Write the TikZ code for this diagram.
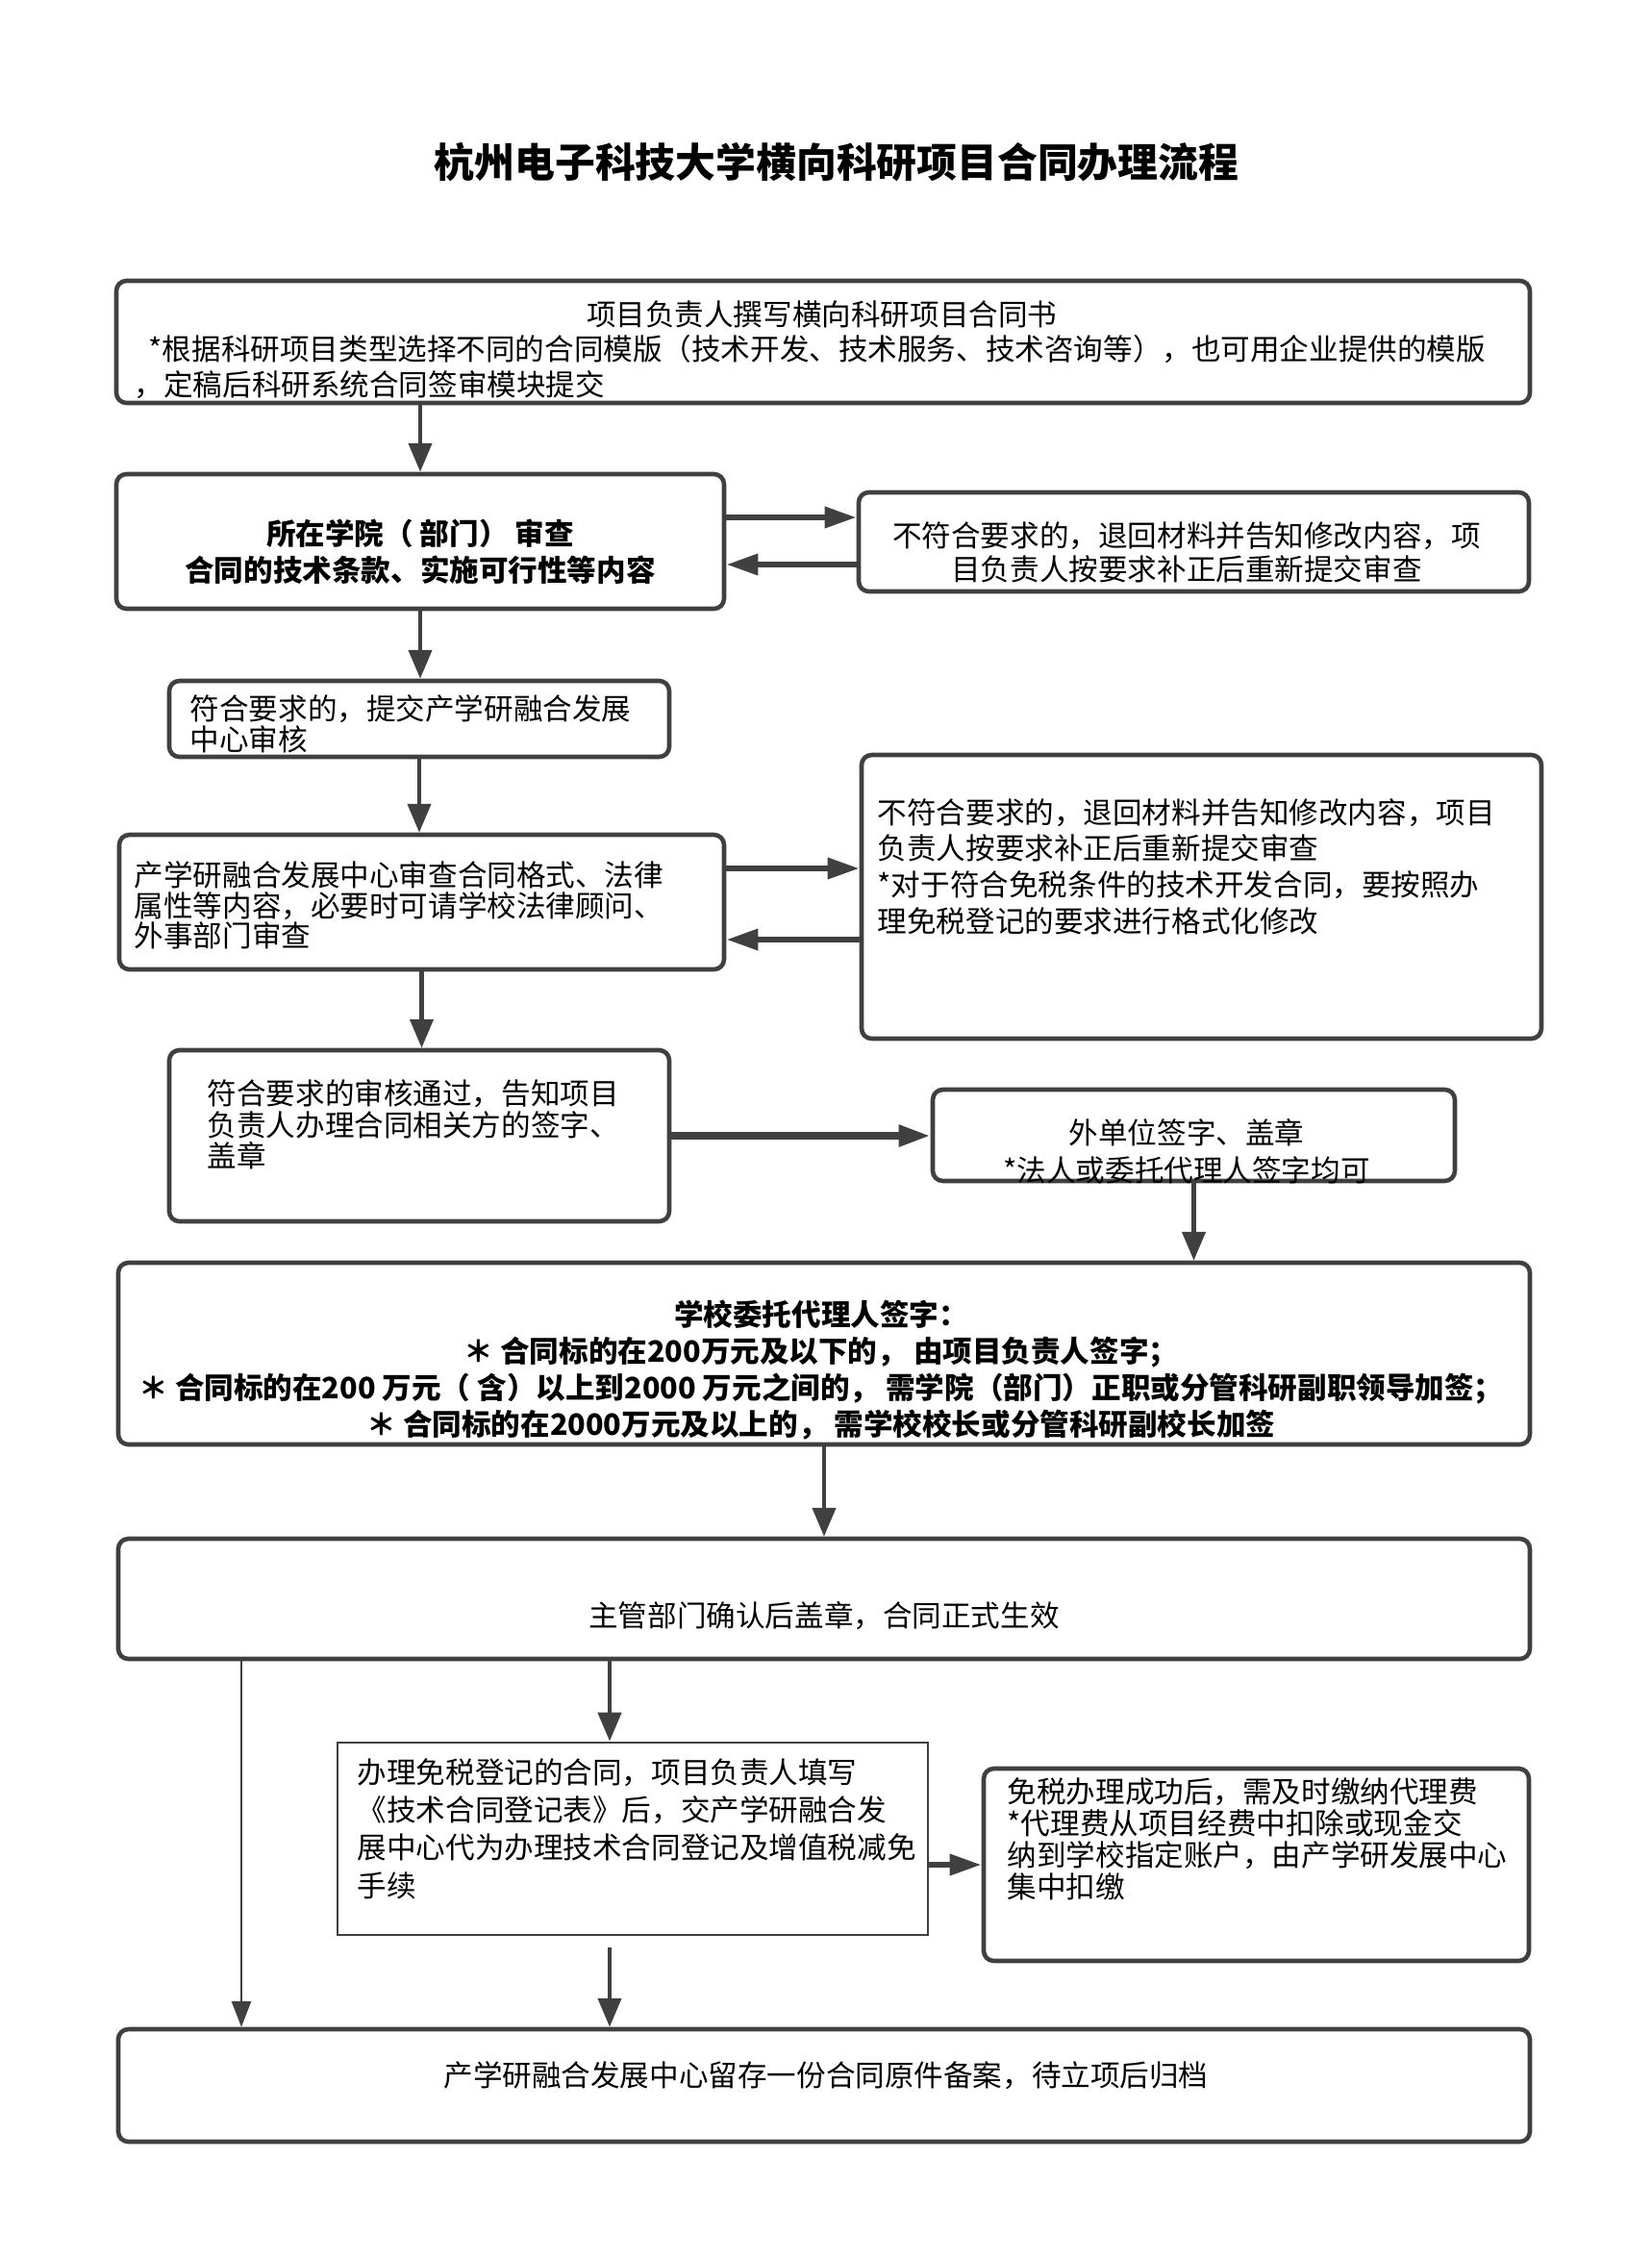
\documentclass[tikz,border=0pt]{standalone}
\usepackage{fontspec}
\setmainfont{Noto Sans CJK SC}
\usetikzlibrary{arrows.meta}
\definecolor{linegray}{HTML}{404040}
\tikzset{
  box/.style={draw=linegray, line width=1.3pt, rounded corners=3pt, inner sep=0pt},
  squarebox/.style={draw=linegray, line width=0.8pt, inner sep=0pt},
  txt/.style={inner sep=0pt, align=left, font=\fontsize{8.7pt}{#1}\selectfont},
  txt/.default=10.8pt,
  boldtxt/.style={inner sep=0pt, align=center, font=\fontsize{8.7pt}{10.8pt}\selectfont\bfseries},
  flow/.style={draw=linegray, line width=1.3pt, -{Triangle[length=8.5pt,width=6.8pt]}},
  sideflow/.style={draw=linegray, line width=1.8pt, -{Triangle[length=9.4pt,width=6pt]}},
  thinflow/.style={draw=linegray, line width=0.7pt, -{Triangle[length=7.6pt,width=5.7pt]}}
}
\begin{document}
\begin{tikzpicture}
  \fill[white] (0,0) rectangle (17.17,-23.50);
  \useasboundingbox (0,0) rectangle (17.17,-23.50);
  \node[inner sep=0pt, font=\fontsize{11.9pt}{14pt}\selectfont\bfseries] (title) at (8.70,-1.69) {杭州电子科技大学横向科研项目合同办理流程};

  % boxes
  \node[box, minimum width=14.70cm, minimum height=1.27cm] (b1) at (8.56,-3.555) {};
  \node[box, minimum width=6.32cm, minimum height=1.40cm] (b2) at (4.37,-5.63) {};
  \node[box, minimum width=6.97cm, minimum height=1.03cm] (b2r) at (12.415,-5.635) {};
  \node[box, minimum width=5.20cm, minimum height=0.79cm] (b3) at (4.36,-7.475) {};
  \node[box, minimum width=6.29cm, minimum height=1.40cm] (b4) at (4.385,-9.38) {};
  \node[box, minimum width=7.07cm, minimum height=2.95cm] (b4r) at (12.495,-9.325) {};
  \node[box, minimum width=5.20cm, minimum height=1.78cm] (b5) at (4.36,-11.81) {};
  \node[box, minimum width=5.43cm, minimum height=0.95cm] (b5r) at (12.415,-11.805) {};
  \node[box, minimum width=14.68cm, minimum height=1.89cm] (b6) at (8.57,-14.075) {};
  \node[box, minimum width=14.68cm, minimum height=1.25cm] (b7) at (8.57,-16.625) {};
  \node[squarebox, minimum width=6.14cm, minimum height=2.00cm] (b8) at (6.58,-19.12) {};
  \node[box, minimum width=5.67cm, minimum height=2.00cm] (b9) at (13.065,-19.39) {};
  \node[box, minimum width=14.68cm, minimum height=1.17cm] (b10) at (8.57,-21.685) {};

  % texts
  \node[txt=10.4pt, anchor=north west] (t1) at (1.39,-3.117) {\makebox[14.3cm]{项目负责人撰写横向科研项目合同书}\\
    \hspace{0.15cm}*根据科研项目类型选择不同的合同模版（技术开发、技术服务、技术咨询等），也可用企业提供的模版\\
    ，定稿后科研系统合同签审模块提交};
  \node[boldtxt] (t2) at (4.37,-5.74) {所在学院（ 部门） 审查\\合同的技术条款、实施可行性等内容};
  \node[txt=10pt, align=center] (t2r) at (12.34,-5.745) {不符合要求的，退回材料并告知修改内容，项\\目负责人按要求补正后重新提交审查};
  \node[txt=9pt, anchor=north west] (t3) at (1.97,-7.217) {符合要求的，提交产学研融合发展\\中心审核};
  \node[txt=9pt, anchor=north west] (t4) at (1.39,-8.947) {产学研融合发展中心审查合同格式、法律\\属性等内容，必要时可请学校法律顾问、\\外事部门审查};
  \node[txt=10.7pt, anchor=north west] (t4r) at (9.12,-8.297) {不符合要求的，退回材料并告知修改内容，项目\\负责人按要求补正后重新提交审查\\*对于符合免税条件的技术开发合同，要按照办\\理免税登记的要求进行格式化修改};
  \node[txt=9.3pt, anchor=north west] (t5) at (2.15,-11.217) {符合要求的审核通过，告知项目\\负责人办理合同相关方的签字、\\盖章};
  \node[txt=11pt, align=center] (t5r) at (12.34,-11.975) {外单位签字、盖章\\*法人或委托代理人签字均可};
  \node[boldtxt] (t6) at (8.54,-14.25) {学校委托代理人签字：\\＊ 合同标的在200万元及以下的， 由项目负责人签字；\\＊ 合同标的在200 万元（ 含）以上到2000 万元之间的， 需学院（部门）正职或分管科研副职领导加签；\\＊ 合同标的在2000万元及以上的， 需学校校长或分管科研副校长加签};
  \node[txt] (t7) at (8.57,-16.80) {主管部门确认后盖章，合同正式生效};
  \node[txt=11.2pt, anchor=north west] (t8) at (3.71,-18.277) {办理免税登记的合同，项目负责人填写\\《技术合同登记表》后，交产学研融合发\\展中心代为办理技术合同登记及增值税减免\\手续};
  \node[txt=9.4pt, anchor=north west] (t9) at (10.47,-18.477) {免税办理成功后，需及时缴纳代理费\\*代理费从项目经费中扣除或现金交\\纳到学校指定账户，由产学研发展中心\\集中扣缴};
  \node[txt] (t10) at (8.59,-21.58) {产学研融合发展中心留存一份合同原件备案，待立项后归档};

  % connectors
  \coordinate (c7) at (2.51,-17.25);
  \coordinate (c8) at (6.34,-20.25);
  \draw[flow] (b1.south -| b2.north) -- (b2.north);
  \draw[sideflow] (b2.east |- 0,-5.38) -- (b2r.west |- 0,-5.38);
  \draw[sideflow] (b2r.west |- 0,-5.87) -- (b2.east |- 0,-5.87);
  \draw[flow] (b2.south) -- (b2.south |- b3.north);
  \draw[flow] (b3.south) -- (b3.south |- b4.north);
  \draw[sideflow] (b4.east |- 0,-9.03) -- (b4r.west |- 0,-9.03);
  \draw[sideflow] (b4r.west |- 0,-9.77) -- (b4.east |- 0,-9.77);
  \draw[flow] (b4.south) -- (b4.south |- b5.north);
  \draw[sideflow, line width=2.2pt] (b5.east) -- (b5.east -| b5r.west);
  \draw[flow] (b5r.south) -- (b5r.south |- b6.north);
  \draw[flow] (b6.south) -- (b6.south |- b7.north);
  \draw[flow] (b7.south -| c8) -- (b8.north -| c8);
  \draw[thinflow] (c7) -- (b10.north -| c7);
  \draw[sideflow] (b8.east |- b9.west) -- (b9.west);
  \draw[flow] (c8) -- (b10.north -| c8);
\end{tikzpicture}
\end{document}
